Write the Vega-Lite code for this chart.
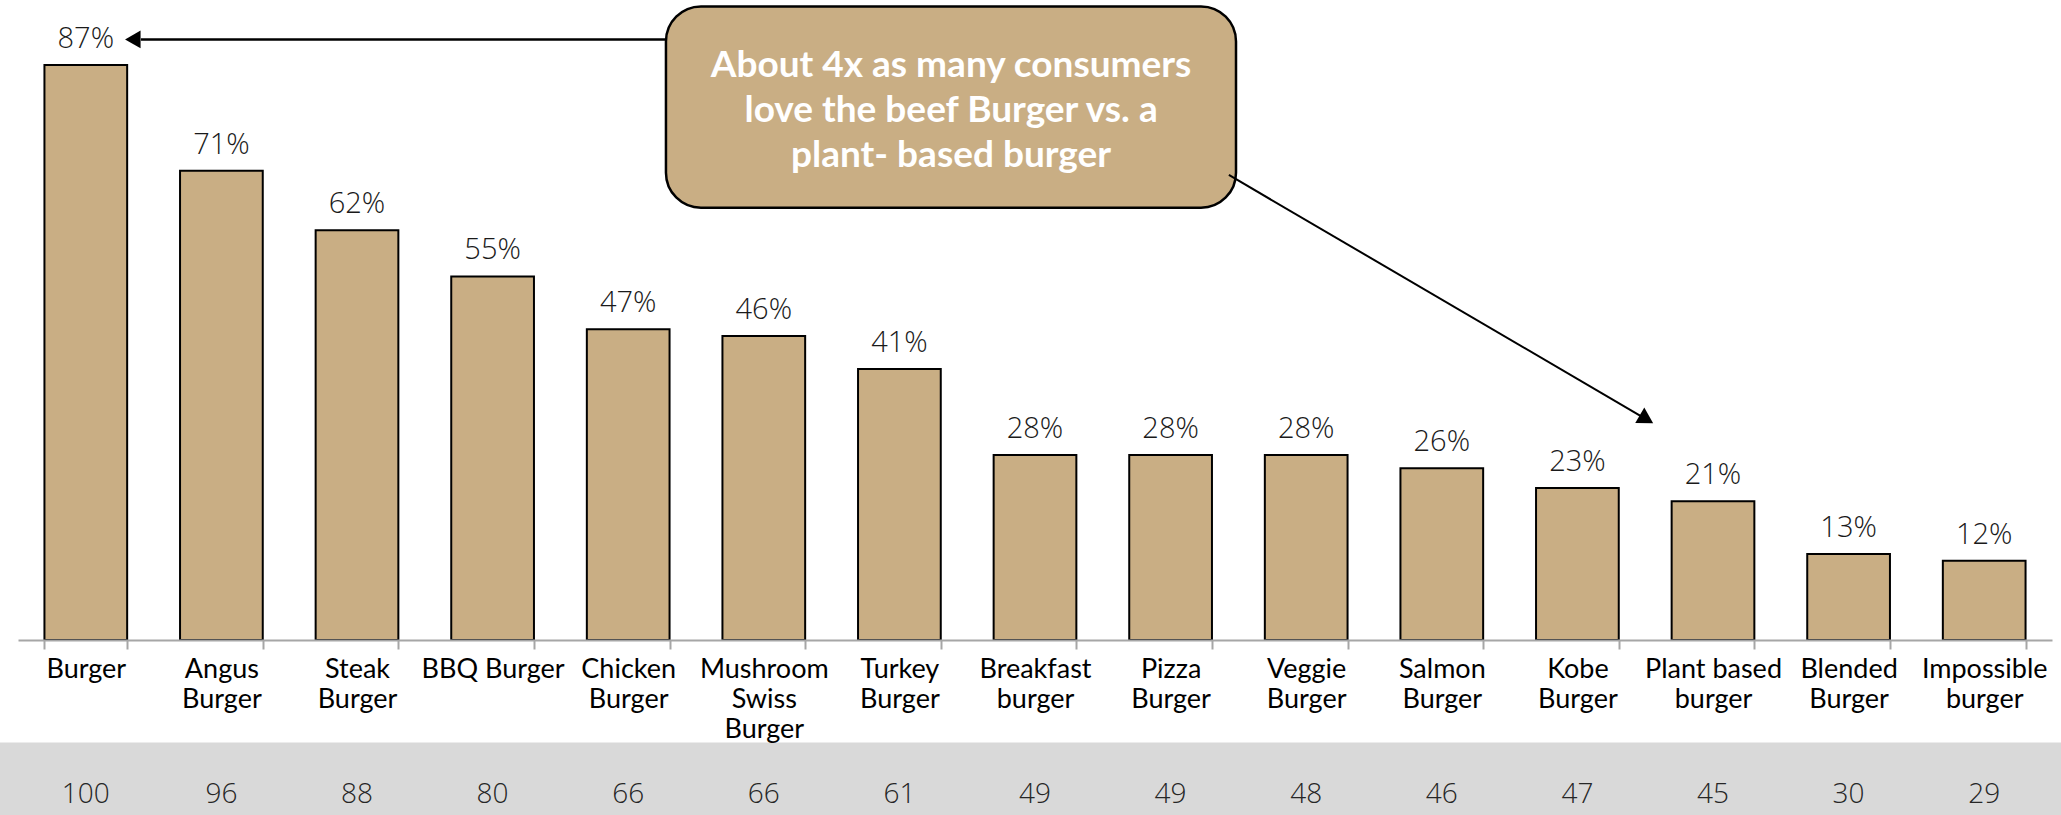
{
  "$schema": "https://vega.github.io/schema/vega-lite/v6.json",
  "width": 2061,
  "height": 815,
  "autosize": "none",
  "padding": 0,
  "background": "white",
  "config": {"view": {"stroke": null}},
  "datasets": {
    "burgers": [
      {"burger": "Burger", "love": 87, "index": 100},
      {"burger": "Angus Burger", "love": 71, "index": 96},
      {"burger": "Steak Burger", "love": 62, "index": 88},
      {"burger": "BBQ Burger", "love": 55, "index": 80},
      {"burger": "Chicken Burger", "love": 47, "index": 66},
      {"burger": "Mushroom Swiss Burger", "love": 46, "index": 66},
      {"burger": "Turkey Burger", "love": 41, "index": 61},
      {"burger": "Breakfast burger", "love": 28, "index": 49},
      {"burger": "Pizza Burger", "love": 28, "index": 49},
      {"burger": "Veggie Burger", "love": 28, "index": 48},
      {"burger": "Salmon Burger", "love": 26, "index": 46},
      {"burger": "Kobe Burger", "love": 23, "index": 47},
      {"burger": "Plant based burger", "love": 21, "index": 45},
      {"burger": "Blended Burger", "love": 13, "index": 30},
      {"burger": "Impossible burger", "love": 12, "index": 29}
    ],
    "note": [
      {"text": "About 4x as many consumers\nlove the beef Burger vs. a\nplant- based burger"}
    ]
  },
  "layer": [
    {
      "data": {"name": "note"},
      "layer": [
        {
          "mark": {"type": "rect", "fill": "#d9d9d9"},
          "encoding": {
            "x": {"datum": -0.3, "type": "quantitative", "scale": {"domain": [0, 15], "range": [17, 2037], "nice": false, "zero": false}, "axis": null},
            "x2": {"datum": 15.4},
            "y": {"datum": -15.5, "type": "quantitative", "scale": {"domain": [-26.47, 96.82], "nice": false, "zero": false}, "axis": null},
            "y2": {"datum": -27}
          }
        },
        {
          "mark": {"type": "rect", "fill": "#c9ae84", "stroke": "#000000", "strokeWidth": 2.5, "cornerRadius": 35},
          "encoding": {
            "x": {"datum": 4.819, "type": "quantitative", "scale": {"domain": [0, 15], "range": [17, 2037], "nice": false, "zero": false}, "axis": null},
            "x2": {"datum": 9.052},
            "y": {"datum": 95.84, "type": "quantitative", "scale": {"domain": [-26.47, 96.82], "nice": false, "zero": false}, "axis": null},
            "y2": {"datum": 65.4}
          }
        },
        {
          "mark": {"type": "text", "font": "Lato", "fontWeight": "bold", "fontSize": 37, "color": "#ffffff", "align": "center", "baseline": "middle", "lineBreak": "\n", "lineHeight": 45},
          "encoding": {
            "x": {"datum": 6.936, "type": "quantitative", "scale": {"domain": [0, 15], "range": [17, 2037], "nice": false, "zero": false}, "axis": null},
            "y": {"datum": 86.84, "type": "quantitative", "scale": {"domain": [-26.47, 96.82], "nice": false, "zero": false}, "axis": null},
            "text": {"field": "text", "type": "nominal"}
          }
        },
        {
          "mark": {"type": "rule", "color": "#000000", "strokeWidth": 2.5},
          "encoding": {
            "x": {"datum": 0.92, "type": "quantitative", "scale": {"domain": [0, 15], "range": [17, 2037], "nice": false, "zero": false}, "axis": null},
            "x2": {"datum": 4.819},
            "y": {"datum": 90.86, "type": "quantitative", "scale": {"domain": [-26.47, 96.82], "nice": false, "zero": false}, "axis": null}
          }
        },
        {
          "mark": {"type": "point", "shape": "triangle-left", "filled": true, "color": "#000000", "size": 320, "opacity": 1},
          "encoding": {
            "x": {"datum": 0.86, "type": "quantitative", "scale": {"domain": [0, 15], "range": [17, 2037], "nice": false, "zero": false}, "axis": null},
            "y": {"datum": 90.86, "type": "quantitative", "scale": {"domain": [-26.47, 96.82], "nice": false, "zero": false}, "axis": null}
          }
        },
        {
          "mark": {"type": "rule", "color": "#000000", "strokeWidth": 2},
          "encoding": {
            "x": {"datum": 8.999, "type": "quantitative", "scale": {"domain": [0, 15], "range": [17, 2037], "nice": false, "zero": false}, "axis": null},
            "x2": {"datum": 12.09},
            "y": {"datum": 70.35, "type": "quantitative", "scale": {"domain": [-26.47, 96.82], "nice": false, "zero": false}, "axis": null},
            "y2": {"datum": 33.5}
          }
        },
        {
          "mark": {"type": "point", "shape": "triangle-right", "angle": 30.4, "filled": true, "color": "#000000", "size": 320, "opacity": 1},
          "encoding": {
            "x": {"datum": 12.1, "type": "quantitative", "scale": {"domain": [0, 15], "range": [17, 2037], "nice": false, "zero": false}, "axis": null},
            "y": {"datum": 33.4, "type": "quantitative", "scale": {"domain": [-26.47, 96.82], "nice": false, "zero": false}, "axis": null}
          }
        }
      ]
    },
    {
      "data": {"name": "burgers"},
      "encoding": {
        "x": {
          "field": "burger",
          "type": "nominal",
          "sort": null,
          "scale": {"range": [18, 2052], "paddingInner": 0.39, "paddingOuter": 0.195},
          "axis": {
            "title": null,
            "orient": "bottom",
            "offset": -175,
            "zindex": 1,
            "domainColor": "#a6a6a6",
            "domainWidth": 2,
            "tickColor": "#a6a6a6",
            "tickWidth": 2,
            "tickSize": 9,
            "tickBand": "extent",
            "labelAngle": 0,
            "labelFont": "Lato",
            "labelFontSize": 27,
            "labelColor": "#000000",
            "labelLineHeight": 30,
            "labelPadding": 7,
            "labelLimit": 300,
            "labelOverlap": false,
            "labelExpr": "!isString(datum.value) ? '' : datum.value == 'BBQ Burger' ? datum.value : datum.value == 'Plant based burger' ? ['Plant based', 'burger'] : split(datum.value, ' ')"
          }
        }
      },
      "layer": [
        {
          "mark": {"type": "bar", "fill": "#c9ae84", "stroke": "#000000", "strokeWidth": 2},
          "encoding": {
            "y": {"field": "love", "type": "quantitative", "scale": {"domain": [-26.47, 96.82], "nice": false, "zero": false}, "axis": null},
            "y2": {"datum": 0}
          }
        },
        {
          "transform": [{"calculate": "datum.love + '%'", "as": "label"}],
          "mark": {"type": "text", "font": "Open Sans", "fontWeight": 300, "fontSize": 29, "color": "#1a1a1a", "baseline": "alphabetic", "dy": -17},
          "encoding": {
            "y": {"field": "love", "type": "quantitative", "scale": {"domain": [-26.47, 96.82], "nice": false, "zero": false}, "axis": null},
            "text": {"field": "label", "type": "nominal"}
          }
        },
        {
          "mark": {"type": "text", "font": "Open Sans", "fontWeight": 300, "fontSize": 28, "color": "#262626", "baseline": "middle"},
          "encoding": {
            "y": {"datum": -23.45, "type": "quantitative", "scale": {"domain": [-26.47, 96.82], "nice": false, "zero": false}, "axis": null},
            "text": {"field": "index", "type": "quantitative"}
          }
        }
      ]
    }
  ],
  "resolve": {"scale": {"x": "independent"}, "axis": {"x": "independent"}}
}
